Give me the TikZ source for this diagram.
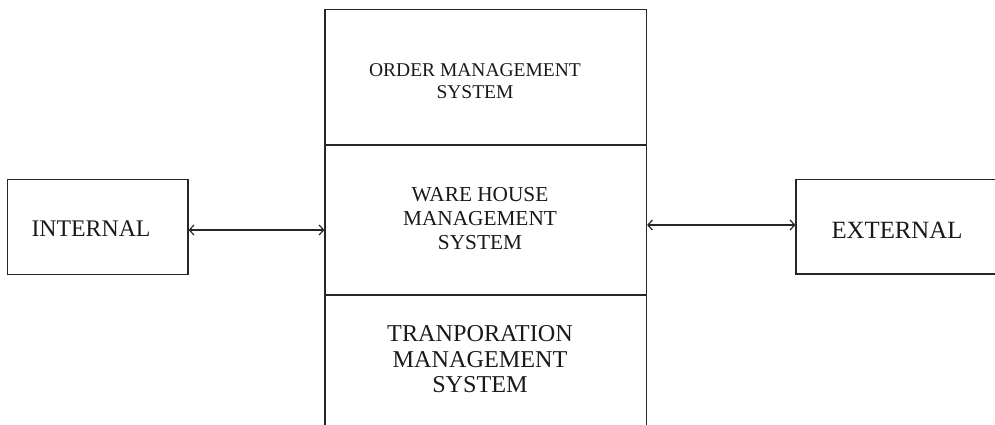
\documentclass[tikz,border=0pt]{standalone}
\usepackage{fontspec}
\setmainfont{Liberation Serif}
\usetikzlibrary{arrows.meta}
\begin{document}
\begin{tikzpicture}[x=1pt,y=-1pt,
  box/.style={draw=black!85,line width=1.2pt,inner sep=0pt},
  lbl/.style={align=center,inner sep=0pt,text=black!90},
  arr/.style={draw=black!85,line width=1.2pt,{Straight Barb[length=4.5pt,width=10pt]}-{Straight Barb[length=4.5pt,width=10pt]}}]
\useasboundingbox (0,0) rectangle (995,425);
\clip (0,0) rectangle (995,425);
% central column
\node[box,minimum width=321.5pt,minimum height=135.5pt] (oms) at (485.75,77.25) {};
\node[box,minimum width=321.5pt,minimum height=150pt] (wms) at (485.75,220) {};
\node[box,minimum width=321.5pt,minimum height=160pt] (tms) at (485.75,375) {};
% side boxes
\node[box,minimum width=180.5pt,minimum height=95pt] (internal) at (97.75,227) {};
\node[box,minimum width=214pt,minimum height=94.5pt] (external) at (903,226.75) {};
% texts
\node[lbl,font=\fontsize{19.5}{22}\selectfont] (omst) at (475,81.3) {ORDER MANAGEMENT\\SYSTEM};
\node[lbl,font=\fontsize{21.3}{24}\selectfont] (wmst) at (480,219) {WARE HOUSE\\MANAGEMENT\\SYSTEM};
\node[lbl,font=\fontsize{24.2}{25.5}\selectfont] (tmst) at (480,359.5) {TRANPORATION\\MANAGEMENT\\SYSTEM};
\node[lbl,font=\fontsize{23.8}{26}\selectfont] (intt) at (91,229) {INTERNAL};
\node[lbl,font=\fontsize{24.8}{26}\selectfont] (extt) at (897,230) {EXTERNAL};
% connectors
\draw[arr] ([yshift=-3pt]internal.east) -- ([yshift=-3pt]internal.east -| wms.west);
\draw[arr] ([yshift=1.75pt]wms.east |- external.east) -- ([yshift=1.75pt]external.west);
\end{tikzpicture}
\end{document}
